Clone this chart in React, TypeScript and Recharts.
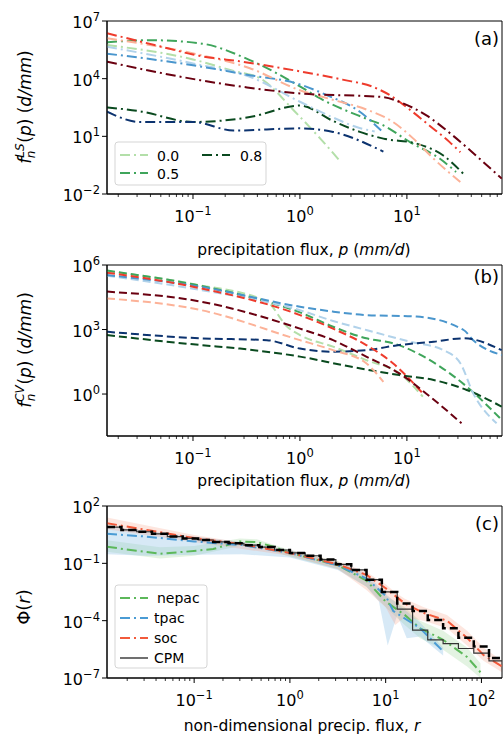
import React from 'react';
import { LineChart, ComposedChart, Line, Area, XAxis, YAxis, ReferenceArea } from 'recharts';

// ---------- data: [x, y] pairs ----------
// Panel (a): large-scale precipitation distributions (dash-dot)
const A_NEP00 = [[0.0157, 5.6e5], [0.1, 1e5], [0.24, 2.5e4], [0.43, 1e4], [0.9, 1.9e2], [1.55, 7.6], [2.34, 0.56]];
const A_NEP05 = [[0.0157, 7.8e5], [0.04, 1.0e6], [0.117, 6.9e5], [0.34, 9.3e4], [1, 4e3], [1.55, 9.3e2], [4.17, 83], [6.03, 37], [10.7, 5], [20.4, 0.68], [28.8, 0.14]];
const A_NEP08 = [[0.0157, 3.2e2], [0.032, 2e2], [0.1, 56], [0.34, 1e2], [1, 4e2], [2.04, 63], [3.63, 17], [6.03, 7.6], [12.3, 4.2], [21.9, 1.0], [33.9, 0.11]];
const A_TP00 = [[0.0157, 4.6e5], [0.1, 6.2e4], [0.34, 1.26e4], [1, 6.3e2], [2.0, 1e2], [3.55, 28], [5.0, 18]];
const A_TP05 = [[0.0157, 2.0e5], [0.1, 5e4], [0.32, 1.6e4], [1, 5e3], [1.78, 1.4e3], [3.63, 1.9e2], [5.75, 20]];
const A_TP08 = [[0.0157, 1.9e2], [0.032, 56], [0.1, 56], [0.24, 20], [1, 26], [2.04, 17], [6.03, 1.6]];
const A_SOC00 = [[0.0157, 1.26e6], [0.117, 1.7e5], [0.34, 3.5e4], [1, 2.5e3], [2.04, 7.9e2], [4.17, 2.5e2], [7.4, 56], [11.5, 7.6], [17.8, 0.68], [31.6, 0.042]];
const A_SOC05 = [[0.0157, 2.3e6], [0.058, 3.8e5], [0.1, 1.8e5], [0.32, 7e4], [1, 2.4e4], [2.5, 8.9e3], [4.84, 3.7e3], [6.9, 1.4e3], [10, 3.2e2], [16.2, 37], [25.1, 5], [31.6, 1.5]];
const A_SOC08 = [[0.0157, 7.6e4], [0.117, 8.3e3], [0.32, 3.5e3], [1, 1.7e3], [6.03, 1.1e3], [8.5, 6.2e2], [15.1, 1.26e2], [26.9, 11], [47.9, 0.68], [77, 0.063]];

// Panel (b): convective precipitation distributions (dashed)
const B_NEP00 = [[0.0157, 5.2e5], [0.1, 1.3e5], [0.49, 2e4], [0.76, 1.35e3], [1, 5.5e2], [2.04, 1.6e2], [4.17, 38], [8.5, 9.1], [14.1, 0.76]];
const B_NEP05 = [[0.0157, 5.5e5], [0.1, 1.26e5], [0.32, 3.5e4], [1, 6.3e3], [2.04, 1.35e3], [4.17, 3.9e2], [7.4, 2.3e2], [20.4, 19], [36.3, 2.2], [77, 0.063]];
const B_NEP08 = [[0.0157, 5.5e2], [0.117, 1.9e2], [0.275, 1.3e2], [1, 55], [2.95, 19], [8.5, 7.6], [17.8, 4.5], [36.3, 1.55], [77, 0.26]];
const B_TP00 = [[0.0157, 3.2e5], [0.1, 7.9e4], [1, 7.9e3], [2.04, 2.5e3], [4.17, 9.5e2], [10.7, 2.7e2], [21.9, 1.1e2], [31.6, 27], [41.7, 1.07], [69, 0.044]];
const B_TP05 = [[0.0157, 3.4e5], [0.117, 9.8e4], [1, 1.15e4], [2.04, 6.8e3], [4.17, 4.7e3], [12.3, 4e3], [33.9, 9.5e2], [41.7, 3.2e2], [77, 65]];
const B_TP08 = [[0.0157, 7.9e2], [0.117, 3.9e2], [0.49, 3.2e2], [1, 1.3e2], [2.04, 93], [4.17, 1.1e2], [8.5, 1.9e2], [17.8, 2.7e2], [33.9, 3.9e2], [77, 1.1e2]];
const B_SOC00 = [[0.0157, 2.8e4], [0.117, 8.1e3], [1, 3.2e2], [2.04, 1.1e2], [4.17, 27], [6.03, 3.7]];
const B_SOC05 = [[0.0157, 4.4e5], [0.1, 9.8e4], [1, 4.7e3], [2.04, 1.1e3], [4.17, 1.9e2], [7.4, 27], [14.1, 1.07]];
const B_SOC08 = [[0.0157, 5.8e4], [0.117, 2e4], [1, 1.1e3], [2.04, 3.2e2], [4.17, 55], [8.5, 9.1], [15.1, 1.07], [32.4, 0.044]];

// Panel (c): non-dimensional distributions
const C_NEP = [[0.0123, 0.74], [0.025, 0.45], [0.044, 0.32], [0.079, 0.4], [0.158, 0.56], [0.3, 1.4], [0.45, 1.3], [0.7, 0.7], [1, 0.35], [3.16, 0.079], [6.3, 0.0126], [10, 1e-3], [15.8, 2e-4], [22.9, 4e-5], [39.8, 1e-5], [70.8, 1.26e-6], [97.7, 2e-7]];
const C_TP = [[0.0123, 3.5], [0.032, 2.5], [0.1, 1.4], [0.316, 0.9], [1, 0.35], [3.16, 0.079], [6.3, 0.016], [10, 2e-3], [12, 3.2e-4], [22.9, 4e-5], [39.8, 2.5e-6]];
const C_SOC = [[0.0123, 12.6], [0.032, 5.6], [0.1, 2.1], [0.316, 1.0], [1, 0.35], [3.16, 0.089], [6.3, 0.025], [10, 5e-3], [15.8, 8e-4], [25.1, 2.5e-4], [43.6, 1e-4], [70.8, 1.26e-5], [105, 1.6e-6], [164, 4e-7]];
// bands: [x, low, high]
const C_NEP_BAND = [[0.0123, 0.4, 1.6], [0.044, 0.18, 0.7], [0.1, 0.25, 0.8], [0.3, 0.8, 2.0], [0.45, 0.8, 1.8], [1, 0.22, 0.5], [3.16, 0.05, 0.13], [6.3, 6e-3, 0.02], [10, 5e-4, 2e-3], [15.8, 6e-5, 5e-4], [22.9, 1.2e-5, 1e-4], [39.8, 3e-6, 3e-5], [70.8, 4e-7, 4e-6], [97.7, 1e-7, 6e-7]];
const C_TP_BAND = [[0.0123, 0.3, 8], [0.032, 0.25, 5], [0.1, 0.28, 2.5], [0.316, 0.3, 1.3], [1, 0.2, 0.5], [3.16, 0.045, 0.12], [6.3, 6e-3, 0.03], [8.5, 1e-3, 6e-3], [10.5, 5e-6, 2e-3], [13.2, 2e-4, 8e-4], [16.6, 1.2e-5, 3e-4], [22.9, 1.5e-5, 8e-5], [39.8, 1.5e-6, 4e-6]];
const C_SOC_BAND = [[0.0123, 6, 25], [0.1, 1.3, 3], [1, 0.25, 0.5], [3.16, 0.05, 0.13], [6.3, 4e-3, 0.035], [10, 5e-4, 8e-3], [12.6, 6e-5, 3e-3], [15.8, 1.5e-4, 1.4e-3], [25.1, 1e-4, 5e-4], [43.6, 4e-5, 2e-4], [70.8, 5e-6, 3e-5], [105, 8e-7, 4e-6], [164, 2e-7, 8e-7]];
// CPM histograms (step)
const C_CPM_A = [[0.0123, 7.9], [0.0174, 5.6], [0.0251, 4.5], [0.0363, 3.5], [0.0525, 2.5], [0.0759, 2.0], [0.11, 1.66], [0.158, 1.32], [0.229, 1.12], [0.331, 0.89], [0.479, 0.71], [0.692, 0.5], [1, 0.35], [1.445, 0.25], [2.09, 0.158], [3.02, 0.089], [4.37, 0.045], [6.31, 0.014], [9.12, 3.2e-3], [13.2, 7.9e-4], [19.1, 3.2e-4], [27.5, 1.1e-4], [39.8, 4e-5], [57.5, 1.26e-5], [83.2, 4.5e-6], [120, 1.1e-6], [164, 1.1e-6]];
const C_CPM_B = [[0.0123, 7.9], [0.0174, 5.6], [0.0251, 4.5], [0.0363, 3.5], [0.0525, 2.5], [0.0759, 2.0], [0.11, 1.66], [0.158, 1.32], [0.229, 1.12], [0.331, 0.89], [0.479, 0.71], [0.692, 0.5], [1, 0.35], [1.445, 0.25], [2.09, 0.158], [3.02, 0.089], [4.37, 0.045], [6.31, 0.014], [9.12, 3.2e-3], [13.2, 4e-4], [19.1, 3.2e-5], [27.5, 1e-5], [39.8, 6.3e-6], [57.5, 3.5e-6], [83.2, 2e-6], [120, 7.9e-7], [164, 7.9e-7]];

// ticks
const X_MAJOR_AB = [0.1, 1, 10];
const X_MAJOR_C = [0.1, 1, 10, 100];
const Y_TICKS_A = [1e-2, 1e1, 1e4, 1e7];
const Y_TICKS_B = [1e0, 1e3, 1e6];
const Y_TICKS_C = [1e-7, 1e-4, 1e-1, 1e2];
const MINOR_MULT = [2, 3, 4, 5, 6, 7, 8, 9];
const DECADES = [0.01, 0.1, 1, 10, 100];

const X_DOMAIN_AB: [number, number] = [0.0157, 77.5];
const X_DOMAIN_C: [number, number] = [0.0123, 164];
const Y_DOMAIN_A: [number, number] = [1e-2, 1e7];
const Y_DOMAIN_B: [number, number] = [0.0112, 1e6];
const Y_DOMAIN_C: [number, number] = [1e-7, 1e2];

const LEGEND_A = ['0.0', '0.5', '0.8'];
const LEGEND_C = ['nepac', 'tpac', 'soc', 'CPM'];

// colours
const GREENS = ['#b3dfa9', '#3fa55b', '#0a4a1f'];
const BLUES = ['#b1d2ea', '#4a96cd', '#0c336f'];
const REDS = ['#fcb298', '#ee3b2c', '#6a0010'];
const C_COLORS = { nep: '#5cb85a', tp: '#4a9bd4', soc: '#f25a3b', cpm: '#333333' };

const FONT = 'DejaVu Sans, Verdana, sans-serif';
const pts = (a: number[][]) => a.map(([x, y]) => ({ x, y }));
const band = (a: number[][]) => a.map(([x, lo, hi]) => ({ x, r: [lo, hi] }));

const minorTicks = (dom: [number, number]) => {
  const out: number[] = [];
  DECADES.forEach((d) => MINOR_MULT.forEach((m) => {
    const v = d * m;
    if (v > dom[0] && v < dom[1]) out.push(v);
  }));
  return out;
};

const expStr = (v: number) => {
  const e = Math.round(Math.log10(v));
  return e < 0 ? '\u2212' + String(-e) : String(e);
};

const makeXTick = (majors: number[]) => (props: any) => {
  const { x, y, payload } = props;
  const v = payload.value;
  const isMajor = majors.some((m) => Math.abs(m - v) / m < 1e-6);
  return (
    <g>
      <line x1={x} x2={x} y1={y} y2={y + (isMajor ? 5 : 3)} stroke="#000" strokeWidth={isMajor ? 1 : 0.8} />
      {isMajor && (
        <text x={x} y={y + 28} textAnchor="middle" fontSize={16} fontFamily={FONT} fill="#000">
          10<tspan dy={-7} fontSize={11.5}>{expStr(v)}</tspan>
        </text>
      )}
    </g>
  );
};

const YTick = (props: any) => {
  const { x, y, payload } = props;
  return (
    <g>
      <line x1={x} x2={x - 5} y1={y} y2={y} stroke="#000" strokeWidth={1} />
      <text x={x - 7} y={y + 7} textAnchor="end" fontSize={16} fontFamily={FONT} fill="#000">
        10<tspan dy={-7} fontSize={11.5}>{expStr(payload.value)}</tspan>
      </text>
    </g>
  );
};

const DASHDOT = '10 4 2 4';
const DASHED = '8 4';

const seriesA = [
  { d: A_NEP00, c: GREENS[0] }, { d: A_NEP05, c: GREENS[1] }, { d: A_NEP08, c: GREENS[2] },
  { d: A_TP00, c: BLUES[0] }, { d: A_TP05, c: BLUES[1] }, { d: A_TP08, c: BLUES[2] },
  { d: A_SOC00, c: REDS[0] }, { d: A_SOC05, c: REDS[1] }, { d: A_SOC08, c: REDS[2] },
];
const seriesB = [
  { d: B_NEP00, c: GREENS[0] }, { d: B_NEP05, c: GREENS[1] }, { d: B_NEP08, c: GREENS[2] },
  { d: B_TP00, c: BLUES[0] }, { d: B_TP05, c: BLUES[1] }, { d: B_TP08, c: BLUES[2] },
  { d: B_SOC00, c: REDS[0] }, { d: B_SOC05, c: REDS[1] }, { d: B_SOC08, c: REDS[2] },
];

function PanelAB({ series, yDomain, yTicks, dash, height, top, marginTop, xAxisHeight }: any) {
  const xMinor = minorTicks(X_DOMAIN_AB);
  const xTicks = [...X_MAJOR_AB, ...xMinor].sort((a, b) => a - b);
  return (
    <div style={{ position: 'absolute', left: 0, top, width: 504, height }}>
      <LineChart width={504} height={height} margin={{ top: marginTop, right: 2, bottom: 0, left: 0 }}>
        <XAxis dataKey="x" type="number" scale="log" domain={X_DOMAIN_AB} allowDataOverflow ticks={xTicks}
          interval={0} tick={makeXTick(X_MAJOR_AB)} tickLine={false} tickSize={0} tickMargin={0}
          axisLine={{ stroke: '#000' }} height={xAxisHeight} />
        <YAxis dataKey="y" type="number" scale="log" domain={yDomain} allowDataOverflow ticks={yTicks}
          interval={0} tick={YTick} tickLine={false} tickSize={0} tickMargin={0}
          axisLine={{ stroke: '#000' }} width={107} />
        {series.map((s: any, i: number) => (
          <Line key={i} data={pts(s.d)} dataKey="y" type="monotone" stroke={s.c} strokeWidth={2}
            strokeDasharray={dash} dot={false} activeDot={false} isAnimationActive={false} />
        ))}
        <ReferenceArea x1={X_DOMAIN_AB[0]} x2={X_DOMAIN_AB[1]} y1={yDomain[0]} y2={yDomain[1]}
          fill="none" stroke="#000" strokeWidth={1} ifOverflow="visible" />
      </LineChart>
    </div>
  );
}

function PanelC() {
  const xMinor = minorTicks(X_DOMAIN_C);
  const xTicks = [...X_MAJOR_C, ...xMinor].sort((a, b) => a - b);
  return (
    <div style={{ position: 'absolute', left: 0, top: 490, width: 504, height: 247 }}>
      <ComposedChart width={504} height={247} margin={{ top: 16, right: 2, bottom: 0, left: 0 }}>
        <XAxis dataKey="x" type="number" scale="log" domain={X_DOMAIN_C} allowDataOverflow ticks={xTicks}
          interval={0} tick={makeXTick(X_MAJOR_C)} tickLine={false} tickSize={0} tickMargin={0}
          axisLine={{ stroke: '#000' }} height={59} />
        <YAxis type="number" scale="log" domain={Y_DOMAIN_C} allowDataOverflow ticks={Y_TICKS_C}
          interval={0} tick={YTick} tickLine={false} tickSize={0} tickMargin={0}
          axisLine={{ stroke: '#000' }} width={107} />
        <Area data={band(C_NEP_BAND)} dataKey="r" type="linear" stroke="none" fill="#8fd08a" fillOpacity={0.25} isAnimationActive={false} activeDot={false} />
        <Area data={band(C_TP_BAND)} dataKey="r" type="linear" stroke="none" fill="#8cc0e4" fillOpacity={0.35} isAnimationActive={false} activeDot={false} />
        <Area data={band(C_SOC_BAND)} dataKey="r" type="linear" stroke="none" fill="#f99a80" fillOpacity={0.25} isAnimationActive={false} activeDot={false} />
        <Line data={pts(C_NEP)} dataKey="y" type="linear" stroke={C_COLORS.nep} strokeWidth={2} strokeDasharray={DASHDOT} dot={false} activeDot={false} isAnimationActive={false} />
        <Line data={pts(C_TP)} dataKey="y" type="linear" stroke={C_COLORS.tp} strokeWidth={2} strokeDasharray={DASHDOT} dot={false} activeDot={false} isAnimationActive={false} />
        <Line data={pts(C_SOC)} dataKey="y" type="linear" stroke={C_COLORS.soc} strokeWidth={2} strokeDasharray={DASHDOT} dot={false} activeDot={false} isAnimationActive={false} />
        <Line data={pts(C_CPM_B)} dataKey="y" type="stepAfter" stroke={C_COLORS.cpm} strokeWidth={1.2} dot={false} activeDot={false} isAnimationActive={false} />
        <Line data={pts(C_CPM_A)} dataKey="y" type="stepAfter" stroke="#000" strokeWidth={2.5} strokeDasharray={DASHED} dot={false} activeDot={false} isAnimationActive={false} />
        <ReferenceArea x1={X_DOMAIN_C[0]} x2={X_DOMAIN_C[1]} y1={Y_DOMAIN_C[0]} y2={Y_DOMAIN_C[1]}
          fill="none" stroke="#000" strokeWidth={1} ifOverflow="visible" />
      </ComposedChart>
    </div>
  );
}

function Overlay() {
  const lab = { fontFamily: FONT, fill: '#000' } as any;
  return (
    <svg width={504} height={737} style={{ position: 'absolute', left: 0, top: 0, pointerEvents: 'none' }}>
      {/* x-axis titles */}
      <text x={304} y={255} textAnchor="middle" fontSize={15.5} {...lab}>
        precipitation flux, <tspan fontStyle="italic">p</tspan> (<tspan fontStyle="italic">mm/d</tspan>)
      </text>
      <text x={304} y={486} textAnchor="middle" fontSize={15.5} {...lab}>
        precipitation flux, <tspan fontStyle="italic">p</tspan> (<tspan fontStyle="italic">mm/d</tspan>)
      </text>
      <text x={302} y={731} textAnchor="middle" fontSize={15.5} {...lab}>
        non-dimensional precip. flux, <tspan fontStyle="italic">r</tspan>
      </text>
      {/* y-axis titles */}
      <text x={31} y={107} transform="rotate(-90 31 107)" textAnchor="middle" fontSize={17} {...lab}>
        <tspan fontStyle="italic">f</tspan><tspan fontSize={12} fontStyle="italic" dy={-7}>LS</tspan><tspan fontSize={12} fontStyle="italic" dx={-15} dy={11}>n</tspan><tspan dx={8} dy={-4}>(</tspan><tspan fontStyle="italic">p</tspan><tspan>) (</tspan><tspan fontStyle="italic">d/mm</tspan><tspan>)</tspan>
      </text>
      <text x={31} y={350} transform="rotate(-90 31 350)" textAnchor="middle" fontSize={17} {...lab}>
        <tspan fontStyle="italic">f</tspan><tspan fontSize={12} fontStyle="italic" dy={-7}>CV</tspan><tspan fontSize={12} fontStyle="italic" dx={-16} dy={11}>n</tspan><tspan dx={9} dy={-4}>(</tspan><tspan fontStyle="italic">p</tspan><tspan>) (</tspan><tspan fontStyle="italic">d/mm</tspan><tspan>)</tspan>
      </text>
      <text x={30} y={607} transform="rotate(-90 30 607)" textAnchor="middle" fontSize={18} {...lab}>
        Φ(<tspan fontStyle="italic">r</tspan>)
      </text>
      {/* panel letters */}
      <text x={499} y={45} textAnchor="end" fontSize={18} {...lab}>(a)</text>
      <text x={499} y={283} textAnchor="end" fontSize={18} {...lab}>(b)</text>
      <text x={499} y={530} textAnchor="end" fontSize={18} {...lab}>(c)</text>
      {/* legend (a) */}
      <rect x={115} y={142} width={151} height={43} rx={3} fill="#fff" fillOpacity={0.8} stroke="#d5d5d5" />
      <line x1={120} x2={148} y1={155} y2={155} stroke={GREENS[0]} strokeWidth={2} strokeDasharray={DASHDOT} />
      <text x={157} y={160.5} fontSize={14} {...lab}>{LEGEND_A[0]}</text>
      <line x1={120} x2={148} y1={173} y2={173} stroke={GREENS[1]} strokeWidth={2} strokeDasharray={DASHDOT} />
      <text x={157} y={178.5} fontSize={14} {...lab}>{LEGEND_A[1]}</text>
      <line x1={202} x2={230} y1={155} y2={155} stroke={GREENS[2]} strokeWidth={2} strokeDasharray={DASHDOT} />
      <text x={240} y={160.5} fontSize={14} {...lab}>{LEGEND_A[2]}</text>
      {/* legend (c) */}
      <rect x={115} y={585} width={92} height={83} rx={3} fill="#fff" fillOpacity={0.8} stroke="#d5d5d5" />
      <line x1={120} x2={148} y1={598} y2={598} stroke={C_COLORS.nep} strokeWidth={2} strokeDasharray={DASHDOT} />
      <text x={157} y={603} fontSize={14} {...lab}>{LEGEND_C[0]}</text>
      <line x1={120} x2={148} y1={618} y2={618} stroke={C_COLORS.tp} strokeWidth={2} strokeDasharray={DASHDOT} />
      <text x={154} y={623} fontSize={14} {...lab}>{LEGEND_C[1]}</text>
      <line x1={120} x2={148} y1={638} y2={638} stroke={C_COLORS.soc} strokeWidth={2} strokeDasharray={DASHDOT} />
      <text x={154} y={643} fontSize={14} {...lab}>{LEGEND_C[2]}</text>
      <line x1={120} x2={148} y1={658} y2={658} stroke={C_COLORS.cpm} strokeWidth={1.4} />
      <text x={154} y={663} fontSize={14} {...lab}>{LEGEND_C[3]}</text>
    </svg>
  );
}

export default function App() {
  return (
    <div style={{ position: 'absolute', left: 0, top: 0, width: 504, height: 737, background: '#fff', overflow: 'hidden' }}>
      <PanelAB series={seriesA} yDomain={Y_DOMAIN_A} yTicks={Y_TICKS_A} dash={DASHDOT} height={240} top={0} marginTop={21} xAxisHeight={46} />
      <PanelAB series={seriesB} yDomain={Y_DOMAIN_B} yTicks={Y_TICKS_B} dash={DASHED} height={250} top={240} marginTop={25} xAxisHeight={54} />
      <PanelC />
      <Overlay />
    </div>
  );
}
